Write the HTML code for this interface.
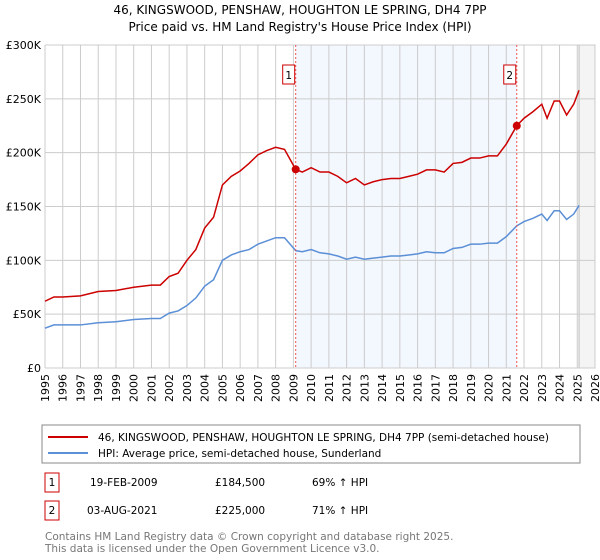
<!DOCTYPE html>
<html><head><meta charset="utf-8"><style>
body{margin:0;background:#fff;font-family:"Liberation Sans","DejaVu Sans",sans-serif;}
#wrap{position:relative;width:600px;height:560px;overflow:hidden;}
svg text{font-family:"DejaVu Sans","Liberation Sans",sans-serif;}
</style></head><body><div id="wrap">
<svg id="chart" width="600" height="560">
<text x="300" y="14" text-anchor="middle" font-size="12">46, KINGSWOOD, PENSHAW, HOUGHTON LE SPRING, DH4 7PP</text>
<text x="300" y="31" text-anchor="middle" font-size="12">Price paid vs. HM Land Registry's House Price Index (HPI)</text>
<g id="grid"></g><g id="series"></g>
<rect x="42" y="425" width="538" height="38" fill="#fff" stroke="#888"/>
<line x1="48" y1="437" x2="88" y2="437" stroke="#cc0000" stroke-width="2"/>
<text x="98" y="441" font-size="10.5">46, KINGSWOOD, PENSHAW, HOUGHTON LE SPRING, DH4 7PP (semi-detached house)</text>
<line x1="48" y1="453" x2="88" y2="453" stroke="#5b8fd6" stroke-width="2"/>
<text x="98" y="457" font-size="10.5">HPI: Average price, semi-detached house, Sunderland</text>
<g font-size="10.5">
<rect x="45" y="473" width="14" height="19" fill="#fff" stroke="#cc0000"/>
<text x="52" y="486" text-anchor="middle">1</text>
<text x="90" y="486">19-FEB-2009</text><text x="215" y="486">£184,500</text><text x="312" y="486">69% ↑ HPI</text>
<rect x="45" y="501" width="14" height="19" fill="#fff" stroke="#cc0000"/>
<text x="52" y="514" text-anchor="middle">2</text>
<text x="87" y="514">03-AUG-2021</text><text x="215" y="514">£225,000</text><text x="312" y="514">71% ↑ HPI</text>
</g>
<text x="45" y="540" font-size="10.5" fill="#777">Contains HM Land Registry data © Crown copyright and database right 2025.</text>
<text x="45" y="552" font-size="10.5" fill="#777">This data is licensed under the Open Government Licence v3.0.</text>
</svg></div>
<script>
const years=[1995,1995.5,1996,1997,1998,1999,2000,2001,2001.5,2002,2002.5,2003,2003.5,2004,2004.5,2005,2005.5,2006,2006.5,2007,2007.5,2008,2008.5,2009.13,2009.5,2010,2010.5,2011,2011.5,2012,2012.5,2013,2013.5,2014,2014.5,2015,2015.5,2016,2016.5,2017,2017.5,2018,2018.5,2019,2019.5,2020,2020.5,2021,2021.59,2022,2022.5,2023,2023.3,2023.7,2024,2024.4,2024.8,2025.1];
const priceK=[62,66,66,67,71,72,75,77,77,85,88,100,110,130,140,170,178,183,190,198,202,205,203,184.5,182,186,182,182,178,172,176,170,173,175,176,176,178,180,184,184,182,190,191,195,195,197,197,208,225,232,238,245,232,248,248,235,245,258];
const hpiK=[37,40,40,40,42,43,45,46,46,51,53,58,65,76,82,100,105,108,110,115,118,121,121,109,108,110,107,106,104,101,103,101,102,103,104,104,105,106,108,107,107,111,112,115,115,116,116,122,132,136,139,143,137,146,146,138,143,151];
const yTicks=[0,50,100,150,200,250,300];
const yTickLabels=["£0","£50K","£100K","£150K","£200K","£250K","£300K"];
const sales=[{n:"1",t:2009.13,v:184.5},{n:"2",t:2021.59,v:225}];
const X0=45,X1=595,Y0=368,Y1=45;
const sx=t=>X0+(t-1995)/(2026-1995)*(X1-X0);
const sy=v=>Y0-v/300*(Y0-Y1);
const NS="http://www.w3.org/2000/svg";
function mk(tag,attrs,parent){const e=document.createElementNS(NS,tag);for(const k in attrs)e.setAttribute(k,attrs[k]);parent.appendChild(e);return e;}
const g=document.getElementById('grid'),s=document.getElementById('series');
let r=mk('rect',{x:sx(sales[0].t),y:Y1,width:sx(sales[1].t)-sx(sales[0].t),height:Y0-Y1,fill:'#eef3fd',opacity:0.7},g);


let h=mk('rect',{x:sx(2025.1),y:Y1,width:X1-sx(2025.1),height:Y0-Y1,fill:'#f4f4f4',stroke:'#bbb'},g);


for(let y=1995;y<=2026;y++){
 const l=mk('line',{x1:sx(y),x2:sx(y),y1:Y1,y2:Y0,stroke:'#ccc'},g);
 
 
 const t=mk('text',{x:sx(y)+4,y:Y0+6,'font-size':11,transform:`rotate(-90 ${sx(y)+4} ${Y0+6})`,'text-anchor':'end'},g);
 t.textContent=y;
 
 
}
yTicks.forEach((v,i)=>{
 const l=mk('line',{x1:X0,x2:X1,y1:sy(v),y2:sy(v),stroke:'#ccc'},g);
 
 
 const t=mk('text',{x:X0-4,y:sy(v)+4,'font-size':11,'text-anchor':'end'},g);
 t.textContent=yTickLabels[i];
 
 
});
function line(arr,color,name){
 const p=mk('polyline',{points:years.map((t,i)=>sx(t)+','+sy(arr[i])).join(' '),fill:'none',stroke:color,'stroke-width':1.5},s);
 
 
}
line(hpiK,'#5b8fd6','hpi-line');
line(priceK,'#cc0000','price-paid-line');
sales.forEach(d=>{
 const l=mk('line',{x1:sx(d.t),x2:sx(d.t),y1:Y1,y2:Y0,stroke:'#e55','stroke-dasharray':'2,2'},s);
 
 
 const c=mk('circle',{cx:sx(d.t),cy:sy(d.v),r:4,fill:'#cc0000'},s);
 
 
 const b=mk('rect',{x:sx(d.t)-13,y:65,width:12,height:19,fill:'#fff',stroke:'#cc0000'},s);
 
 
 const t=mk('text',{x:sx(d.t)-7,y:79,'font-size':10.5,'text-anchor':'middle'},s);
 t.textContent=d.n;
 
 
});
</script></body></html>
